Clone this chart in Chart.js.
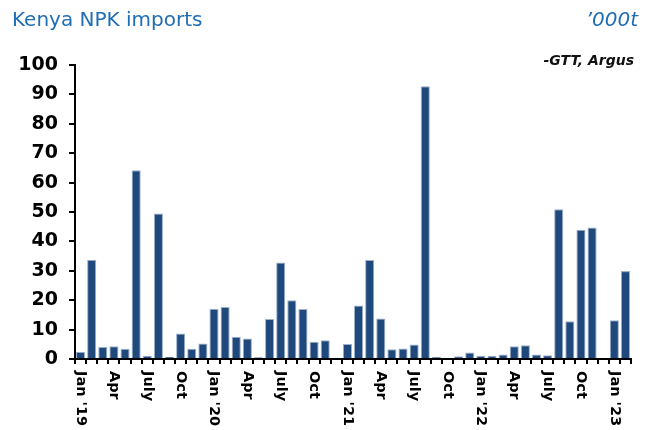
<!DOCTYPE html>
<html>
<head>
<meta charset="utf-8">
<script src="https://cdn.jsdelivr.net/npm/chart.js@4/dist/chart.umd.min.js"></script>
<style>
  html, body { margin: 0; padding: 0; background: #fff; }
  #wrap { position: relative; width: 654px; height: 430px; overflow: hidden; }
  #c { position: absolute; left: 0; top: 0; }
  .txt { position: absolute; white-space: nowrap; }
  #title { left: 12px; top: 7px; font: 20px "DejaVu Sans", sans-serif; color: #1f6db4; line-height: 24px; }
  #unit { right: 16px; top: 7px; font: italic 20px "DejaVu Sans", sans-serif; color: #1f6db4; line-height: 24px; }
  #src { right: 20px; top: 51px; font: bold italic 14px "DejaVu Sans", sans-serif; color: #111; line-height: 18px; }
</style>
</head>
<body>
<div id="wrap">
  <canvas id="c" width="654" height="430"></canvas>
  <div class="txt" id="title">Kenya NPK imports</div>
  <div class="txt" id="unit">’000t</div>
  <div class="txt" id="src">-GTT, Argus</div>
</div>
<script>
// Months Jan 2019 .. Feb 2023
const months = [
  "Jan 2019","Feb 2019","Mar 2019","Apr 2019","May 2019","Jun 2019","Jul 2019","Aug 2019","Sep 2019","Oct 2019","Nov 2019","Dec 2019",
  "Jan 2020","Feb 2020","Mar 2020","Apr 2020","May 2020","Jun 2020","Jul 2020","Aug 2020","Sep 2020","Oct 2020","Nov 2020","Dec 2020",
  "Jan 2021","Feb 2021","Mar 2021","Apr 2021","May 2021","Jun 2021","Jul 2021","Aug 2021","Sep 2021","Oct 2021","Nov 2021","Dec 2021",
  "Jan 2022","Feb 2022","Mar 2022","Apr 2022","May 2022","Jun 2022","Jul 2022","Aug 2022","Sep 2022","Oct 2022","Nov 2022","Dec 2022",
  "Jan 2023","Feb 2023"
];
// Tick labels shown under the axis
const tickLabels = [
  "Jan '19","","","Apr","","","July","","","Oct","","",
  "Jan '20","","","Apr","","","July","","","Oct","","",
  "Jan '21","","","Apr","","","July","","","Oct","","",
  "Jan '22","","","Apr","","","July","","","Oct","","",
  "Jan '23",""
];
// NPK imports, '000t
const imports = [
  2.4, 33.8, 4.1, 4.3, 3.5, 64.2, 1.1, 49.5, 0.8, 8.7, 3.5, 5.3,
  17.1, 17.7, 7.6, 7.0, 0.6, 13.6, 32.8, 20.0, 17.0, 5.9, 6.4, 0.25,
  5.1, 18.2, 33.7, 13.8, 3.3, 3.6, 4.9, 92.8, 0.7, 0, 0.9, 2.2,
  1.1, 1.1, 1.5, 4.3, 4.7, 1.5, 1.3, 50.9, 12.8, 44.0, 44.7, 0,
  13.2, 29.9
];
const yTicks = [0,10,20,30,40,50,60,70,80,90,100];

const xLabelPlugin = {
  id: 'xLabels',
  afterDraw(chart) {
    const ctx = chart.ctx;
    const xs = chart.scales.x;
    const y0 = chart.chartArea.bottom + 12;
    ctx.save();
    ctx.fillStyle = '#000';
    ctx.font = 'bold 14.5px "DejaVu Sans", sans-serif';
    ctx.textAlign = 'left';
    ctx.textBaseline = 'middle';
    tickLabels.forEach((lab, i) => {
      if (!lab) return;
      const x = xs.getPixelForValue(i);
      ctx.save();
      ctx.translate(x, y0);
      ctx.rotate(Math.PI / 2);
      ctx.fillText(lab, 0, 0);
      ctx.restore();
    });
    ctx.restore();
  }
};

new Chart(document.getElementById('c'), {
  type: 'bar',
  data: {
    labels: months,
    datasets: [{
      data: imports,
      backgroundColor: '#1f497d',
      borderColor: '#9db0cc',
      borderWidth: 1,
      barPercentage: 0.82,
      categoryPercentage: 1.0
    }]
  },
  options: {
    responsive: false,
    animation: false,
    layout: { padding: { left: 0, right: 23, top: 65, bottom: 0 } },
    plugins: { legend: { display: false }, tooltip: { enabled: false }, title: { display: false } },
    scales: {
      x: {
        offset: true,
        grid: { display: true, offset: true, drawOnChartArea: false, drawTicks: true, tickLength: 5, color: '#000', lineWidth: 2 },
        border: { display: true, color: '#000', width: 2 },
        ticks: { display: false },
        afterFit(scale) { scale.height = 430 - 359; }
      },
      y: {
        min: 0, max: 100,
        afterBuildTicks(scale) { scale.ticks = yTicks.map(v => ({ value: v })); },
        grid: { drawOnChartArea: false, drawTicks: true, tickLength: 6, color: '#000', lineWidth: 2 },
        border: { display: true, color: '#000', width: 2 },
        ticks: { color: '#000', padding: 11, font: { family: '"DejaVu Sans", sans-serif', weight: 'bold', size: 19 } },
        afterFit(scale) { scale.width = 75; }
      }
    }
  },
  plugins: [xLabelPlugin]
});
</script>
</body>
</html>
